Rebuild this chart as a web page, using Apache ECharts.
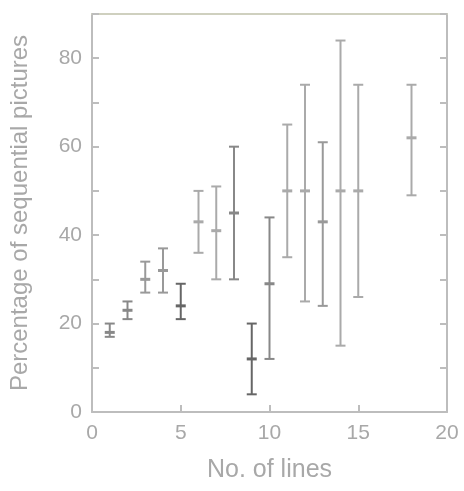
<!DOCTYPE html>
<html>
<head>
<meta charset="utf-8">
<script src="https://cdn.jsdelivr.net/npm/echarts@6/dist/echarts.min.js"></script>
<style>
html, body { margin: 0; padding: 0; background: #fff; }
#chart { width: 464px; height: 491px; }
</style>
</head>
<body>
<div id="chart"></div>
<script>
// number of lines on x, percentage on y
var lines = [1, 2, 3, 4, 5, 6, 7, 8, 9, 10, 11, 12, 13, 14, 15, 18];
var means = [18, 23, 30, 32, 24, 43, 41, 45, 12, 29, 50, 50, 43, 50, 50, 62];
var lows  = [17, 21, 27, 27, 21, 36, 30, 30, 4, 12, 35, 25, 24, 15, 26, 49];
var highs = [20, 25, 34, 37, 29, 50, 51, 60, 20, 44, 65, 74, 61, 84, 74, 74];
var barColors = ['#888', '#888', '#999', '#999', '#666', '#aaa', '#aaa', '#888', '#666', '#888',
                 '#aaa', '#aaa', '#999', '#aaa', '#aaa', '#aaa'];

var barData = lines.map(function (x, i) {
    return [x, lows[i], highs[i], means[i]];
});

var chart = echarts.init(document.getElementById('chart'));

var textColor = '#a8a8a8';
var axisColor = '#bdbdbd';

chart.setOption({
    animation: false,
    grid: { left: 92, right: 17, top: 14, bottom: 79 },
    xAxis: [
        {
            type: 'value', min: 0, max: 20, interval: 5,
            name: 'No. of lines', nameLocation: 'middle', nameGap: 46,
            nameTextStyle: { color: textColor, fontSize: 25, fontFamily: 'Liberation Sans' },
            axisLine: { onZero: false, lineStyle: { color: axisColor, width: 2 } },
            axisTick: { inside: true, length: 7, lineStyle: { color: axisColor, width: 2 } },
            axisLabel: { color: textColor, fontSize: 21, margin: 11, fontFamily: 'Liberation Sans' },
            splitLine: { show: false }
        },
        {
            type: 'value', min: 0, max: 20, interval: 5, position: 'top',
            axisLine: { onZero: false, lineStyle: { color: '#cfd0bf', width: 2 } },
            axisTick: { show: false },
            axisLabel: { show: false },
            splitLine: { show: false }
        }
    ],
    yAxis: [
        {
            type: 'value', min: 0, max: 90, interval: 20,
            name: 'Percentage of sequential pictures', nameLocation: 'middle', nameGap: 60,
            nameTextStyle: { color: textColor, fontSize: 24, fontFamily: 'Liberation Sans' },
            axisLine: { show: true, onZero: false, lineStyle: { color: axisColor, width: 2 } },
            axisTick: { inside: true, length: 7, lineStyle: { color: axisColor, width: 2 } },
            minorTick: { show: true, splitNumber: 2, length: 7, lineStyle: { color: axisColor, width: 2 } },
            axisLabel: { color: textColor, fontSize: 21, margin: 10, showMaxLabel: false, fontFamily: 'Liberation Sans' },
            splitLine: { show: false }
        },
        {
            type: 'value', min: 0, max: 90, interval: 20, position: 'right',
            axisLine: { show: true, onZero: false, lineStyle: { color: axisColor, width: 2 } },
            axisTick: { inside: true, length: 7, lineStyle: { color: axisColor, width: 2 } },
            minorTick: { show: true, splitNumber: 2, length: 7, lineStyle: { color: axisColor, width: 2 } },
            axisLabel: { show: false },
            splitLine: { show: false }
        }
    ],
    series: [
        {
            type: 'custom',
            data: barData,
            renderItem: function (params, api) {
                var x = api.value(0);
                var lo = api.coord([x, api.value(1)]);
                var hi = api.coord([x, api.value(2)]);
                var mid = api.coord([x, api.value(3)]);
                var col = barColors[params.dataIndex];
                var cap = 5;
                var style = { stroke: col, lineWidth: 2 };
                return {
                    type: 'group',
                    children: [
                        { type: 'line', shape: { x1: lo[0], y1: lo[1], x2: hi[0], y2: hi[1] }, style: style },
                        { type: 'line', shape: { x1: lo[0] - cap, y1: lo[1], x2: lo[0] + cap, y2: lo[1] }, style: style },
                        { type: 'line', shape: { x1: hi[0] - cap, y1: hi[1], x2: hi[0] + cap, y2: hi[1] }, style: style },
                        { type: 'line', shape: { x1: mid[0] - cap, y1: mid[1], x2: mid[0] + cap, y2: mid[1] }, style: { stroke: col, lineWidth: 3 } }
                    ]
                };
            },
            encode: { x: 0, y: [1, 2] },
            z: 3
        }
    ]
});
</script>
</body>
</html>
